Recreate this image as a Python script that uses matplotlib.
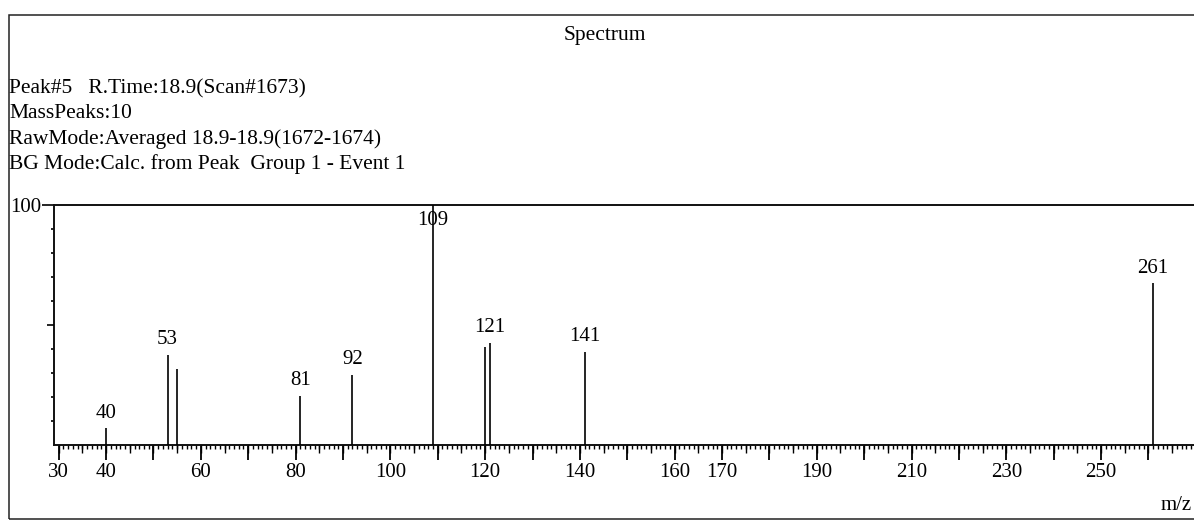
import matplotlib
matplotlib.use("Agg")
import matplotlib.pyplot as plt
from matplotlib.patches import Rectangle
from matplotlib.ticker import MultipleLocator, FixedLocator, NullFormatter

# ---- data ----
mz = [40, 53, 55, 81, 92, 109, 120, 121, 141, 261]
intensity = [7.0, 37.5, 31.7, 20.5, 29.2, 100.0, 41.0, 42.6, 38.9, 67.4]
labelled = [40, 53, 81, 92, 109, 121, 141, 261]
xtick_labels = [30, 40, 60, 80, 100, 120, 140, 160, 170, 190, 210, 230, 250]
header_lines = [
    "Peak#5   R.Time:18.9(Scan#1673)",
    "MassPeaks:10",
    "RawMode:Averaged 18.9-18.9(1672-1674)",
    "BG Mode:Calc. from Peak  Group 1 - Event 1",
]
title = "Spectrum"

W, H = 1194, 529
FONT = "Liberation Serif"
fig = plt.figure(figsize=(W / 100, H / 100), dpi=100)

def fx(px):
    return px / W

def fy(py):
    return 1 - py / H

# outer frame (extends past right edge)
fig.patches.append(Rectangle((fx(9), fy(519)), 1.2, fy(15) - fy(519),
                             transform=fig.transFigure, fill=False,
                             edgecolor="#222222", linewidth=1.1))

fig.text(fx(605), fy(33), title, ha="center", va="center_baseline",
         fontsize=15.5, family=FONT)
for i, line in enumerate(header_lines):
    fig.text(fx(9), fy(86 + 25.3 * i), line, ha="left", va="center_baseline",
             fontsize=15.5, family=FONT)

# axes geometry
x_left_px, base_px, top_px = 54, 445, 205
ppu = 4.738
xmin = 30 - (58.7 - x_left_px) / ppu
xmax = 280
ax_w = (xmax - xmin) * ppu
ax = fig.add_axes([fx(x_left_px), fy(base_px), ax_w / W, (base_px - top_px) / H])
ax.set_xlim(xmin, xmax)
ax.set_ylim(0, 100)

LBL = 15
for x, y in zip(mz, intensity):
    ax.vlines(x, 0, y, color="black", linewidth=1.2, zorder=3)
    if x in labelled:
        if y >= 95:
            ax.annotate(str(x), (x, 100), xytext=(0, -4), textcoords="offset points",
                        ha="center", va="top", fontsize=LBL, family=FONT)
        else:
            ax.annotate(str(x), (x, y), xytext=(0, 4), textcoords="offset points",
                        ha="center", va="bottom", fontsize=LBL, family=FONT)

for s in ["left", "top", "bottom"]:
    ax.spines[s].set_linewidth(1.4)
    ax.spines[s].set_color("#111111")
ax.spines["right"].set_visible(False)

# x ticks: long every 10, minor every 1
ax.xaxis.set_major_locator(MultipleLocator(10))
ax.xaxis.set_minor_locator(MultipleLocator(1))
ax.xaxis.set_major_formatter(plt.FuncFormatter(
    lambda v, p: str(int(round(v))) if int(round(v)) in xtick_labels else ""))
ax.tick_params(axis="x", which="major", length=11, width=1.3, direction="out",
               labelsize=LBL, pad=2)
ax.tick_params(axis="x", which="minor", length=3, width=1.0, direction="out")

# y ticks
ax.yaxis.set_major_locator(FixedLocator([100]))
ax.yaxis.set_major_formatter(plt.FuncFormatter(lambda v, p: "100"))
ax.yaxis.set_minor_locator(FixedLocator([10, 20, 30, 40, 60, 70, 80, 90]))
ax.yaxis.set_minor_formatter(NullFormatter())
ax.tick_params(axis="y", which="major", length=9, width=1.2, labelsize=LBL, pad=0)
ax.tick_params(axis="y", which="minor", length=2.5, width=1.2)

# medium ticks every 5 on a twin axis (shares y with ax)
ax5 = ax.twiny()
ax5.set_xlim(xmin, xmax)
ax5.xaxis.set_ticks_position("bottom")
ax5.xaxis.set_major_locator(MultipleLocator(5))
ax5.xaxis.set_major_formatter(NullFormatter())
ax5.tick_params(axis="x", which="major", length=6, width=1.0, direction="out")
for s in ax5.spines.values():
    s.set_visible(False)

# medium tick at 50 on a twin axis (shares x with ax)
ax50 = ax.twinx()
ax50.set_ylim(0, 100)
ax50.yaxis.set_ticks_position("left")
ax50.yaxis.set_major_locator(FixedLocator([50]))
ax50.yaxis.set_major_formatter(NullFormatter())
ax50.tick_params(axis="y", which="major", length=5, width=1.2)
for s in ax50.spines.values():
    s.set_visible(False)

for lab in ax.get_xticklabels() + ax.get_yticklabels():
    lab.set_family(FONT)
for lab in ax.get_yticklabels():
    lab.set_va("center_baseline")

fig.text(fx(1161), fy(503), "m/z", ha="left", va="center_baseline",
         fontsize=LBL, family=FONT)

fig.savefig("out.png", dpi=100)
